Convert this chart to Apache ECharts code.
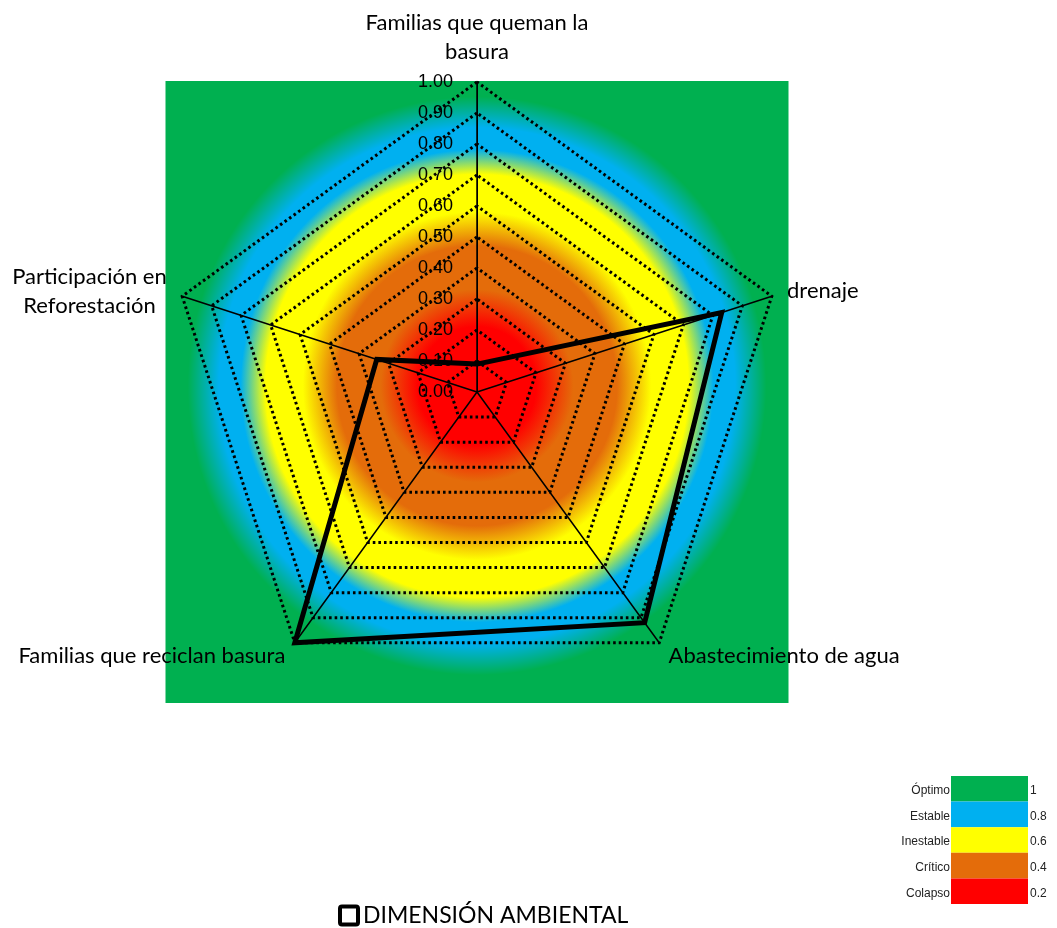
<!DOCTYPE html>
<html>
<head>
<meta charset="utf-8">
<script src="https://cdn.jsdelivr.net/npm/echarts@6/dist/echarts.min.js"></script>
<style>
  html, body { margin: 0; padding: 0; background: #fff; }
  #chart { width: 1057px; height: 928px; }
</style>
</head>
<body>
<div id="chart"></div>
<script>
// Indicators of the environmental dimension, clockwise from the top (0 = collapse, 1 = optimum)
const indicators = [
  'Familias que queman la\nbasura',
  'drenaje',
  'Abastecimiento de agua',
  'Familias que reciclan basura',
  'Participación en\nReforestación'
];
const seriesName = 'DIMENSIÓN AMBIENTAL';
const values = [0.09, 0.83, 0.92, 1.00, 0.34];

// Radial axis ticks
const tickMin = 0;
const tickMax = 1;
const tickStep = 0.1;

// Status scale shown in the colour key
const scaleLabels = ['Óptimo', 'Estable', 'Inestable', 'Crítico', 'Colapso'];
const scaleValues = ['1', '0.8', '0.6', '0.4', '0.2'];
const scaleColors = ['#00B050', '#00B0F0', '#FFFF00', '#E46C0A', '#FF0000'];

const CX = 477, CY = 392, R = 310;
const nameFont = 'Lato, "Open Sans", sans-serif';
const nameSize = 22;
const tickFont = '"Liberation Sans", Arial, sans-serif';

// ECharts lays radar axes out counter-clockwise; keep the first axis on top and walk the rest backwards
const order = indicators.map((_, i) => (indicators.length - i) % indicators.length);

// multi-line axis names: every line is centred in a box as wide as the longest line
const measureCtx = document.createElement('canvas').getContext('2d');
measureCtx.font = nameSize + 'px ' + nameFont;
const nameRich = {};
indicators.forEach((n, i) => {
  const lines = n.split('\n');
  if (lines.length > 1) {
    const w = Math.ceil(Math.max.apply(null, lines.map(l => measureCtx.measureText(l).width)));
    nameRich['n' + i] = { fontSize: nameSize, fontFamily: nameFont, color: '#000', lineHeight: 29, align: 'center', width: w };
  }
});

const chart = echarts.init(document.getElementById('chart'), null, { renderer: 'canvas' });

// colour key, bottom right
const keyX = 951, keyY = 776, keyW = 77, keyH = 25.6;
const keyGraphics = [];
scaleLabels.forEach((lab, i) => {
  keyGraphics.push({
    type: 'rect', z: 1,
    shape: { x: keyX, y: keyY + i * keyH, width: keyW, height: keyH },
    style: { fill: scaleColors[i] }
  });
  keyGraphics.push({
    type: 'text', z: 1,
    x: keyX - 1, y: keyY + i * keyH + keyH / 2 + 2,
    style: { text: lab, fill: '#222', font: '12px ' + tickFont, align: 'right', verticalAlign: 'middle' }
  });
  keyGraphics.push({
    type: 'text', z: 1,
    x: keyX + keyW + 2, y: keyY + i * keyH + keyH / 2 + 2,
    style: { text: scaleValues[i], fill: '#222', font: '12px ' + tickFont, align: 'left', verticalAlign: 'middle' }
  });
});

// radial status gradient behind the radar
const bgGradient = new echarts.graphic.RadialGradient(0.5, 0.49, 0.5, [
  { offset: 0.00, color: '#FF0000' },
  { offset: 0.19, color: '#FF0000' },
  { offset: 0.31, color: '#E46C0A' },
  { offset: 0.45, color: '#E46C0A' },
  { offset: 0.56, color: '#FFFF00' },
  { offset: 0.68, color: '#FFFF00' },
  { offset: 0.76, color: '#00B0F0' },
  { offset: 0.83, color: '#00B0F0' },
  { offset: 0.93, color: '#00B050' },
  { offset: 1.00, color: '#00B050' }
]);

const option = {
  animation: false,
  backgroundColor: '#fff',
  graphic: [
    {
      type: 'rect', z: -10,
      shape: { x: CX - R - 1.5, y: CY - R - 1, width: 2 * R + 3, height: 2 * R + 2 },
      style: { fill: bgGradient }
    }
  ].concat(keyGraphics),
  legend: {
    left: 333, top: 899,
    itemWidth: 18, itemHeight: 18,
    icon: 'path://M2,0 L16,0 Q18,0 18,2 L18,16 Q18,18 16,18 L2,18 Q0,18 0,16 L0,2 Q0,0 2,0 Z',
    itemStyle: { color: '#fff', borderColor: '#000', borderWidth: 4 },
    textStyle: { fontSize: 23, fontFamily: nameFont, color: '#000' },
    data: [seriesName]
  },
  // value axis that carries the tick labels along the upper spoke
  grid: { left: CX, top: CY - R, height: R, width: 10, containLabel: false },
  xAxis: { type: 'value', show: false },
  yAxis: {
    type: 'value', min: tickMin, max: tickMax, interval: tickStep,
    axisLine: { show: true, lineStyle: { color: '#000', width: 1 } },
    axisTick: { show: false },
    splitLine: { show: false },
    axisLabel: {
      margin: 24, color: '#000', fontSize: 18, fontFamily: tickFont,
      formatter: v => v.toFixed(2)
    }
  },
  radar: {
    center: [CX, CY],
    radius: R,
    startAngle: 90,
    splitNumber: Math.round((tickMax - tickMin) / tickStep),
    shape: 'polygon',
    indicator: order.map(i => ({ name: indicators[i], min: tickMin, max: tickMax })),
    nameGap: 16,
    axisName: {
      color: '#000', fontSize: nameSize, fontFamily: nameFont, lineHeight: 29,
      formatter: function (name) {
        const i = indicators.indexOf(name);
        const lines = name.split('\n');
        if (lines.length < 2) return name;
        return lines.map(l => '{n' + i + '|' + l + '}').join('\n');
      },
      rich: nameRich
    },
    axisLine: { lineStyle: { color: '#000', width: 1.5 } },
    axisTick: { show: false },
    splitLine: { lineStyle: { color: '#000', width: 3, type: [2.6, 3] } },
    splitArea: { show: false }
  },
  series: [{
    type: 'radar',
    name: seriesName,
    symbol: 'none',
    z: 5,
    lineStyle: { color: '#000', width: 5, join: 'miter' },
    itemStyle: { color: '#fff', borderColor: '#000', borderWidth: 4 },
    data: [{ name: seriesName, value: order.map(i => values[i]) }]
  }]
};

chart.setOption(option);
</script>
</body>
</html>
